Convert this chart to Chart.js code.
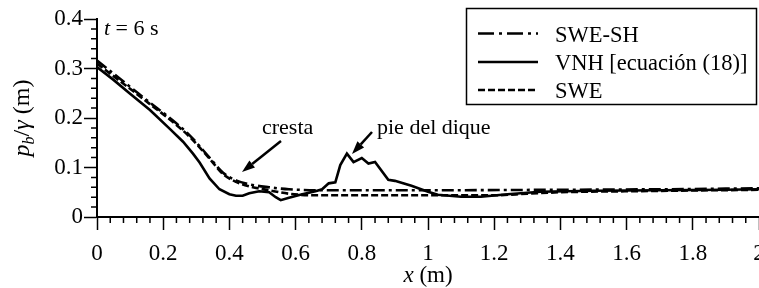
<!DOCTYPE html>
<html>
<head>
<meta charset="utf-8">
<script src="https://cdn.jsdelivr.net/npm/chart.js@4.4.1/dist/chart.umd.min.js"></script>
<style>
  html, body { margin: 0; padding: 0; background: #fff; overflow: hidden; }
  #wrap { position: relative; width: 759px; height: 288px; }
</style>
</head>
<body>
<div id="wrap"><canvas id="pressureChart"></canvas></div>
<script>
'use strict';

/* ── Data ─────────────────────────────────── */
// SWE-SH (dash-dot)
const xSweSh = [0, 0.1, 0.16, 0.22, 0.28, 0.34, 0.38, 0.42, 0.46, 0.52, 0.58, 0.7, 1.0, 1.4, 1.7, 2.0];
const ySweSh = [0.316, 0.263, 0.231, 0.200, 0.165, 0.120, 0.090, 0.074, 0.066, 0.060, 0.056, 0.054, 0.054, 0.055, 0.056, 0.058];

// VNH [ecuación (18)] (solid)
const xVnh = [0, 0.05, 0.1, 0.16, 0.22, 0.26, 0.29, 0.31, 0.34, 0.37, 0.40, 0.42, 0.44, 0.46, 0.49, 0.52, 0.54, 0.555, 0.58, 0.62, 0.66, 0.68,
              0.70, 0.72, 0.735, 0.755, 0.775, 0.80, 0.82, 0.84, 0.88, 0.90, 0.95, 1.0, 1.03, 1.1, 1.16, 1.24, 1.34, 1.5, 1.7, 1.9, 2.0];
const yVnh = [0.303, 0.277, 0.249, 0.216, 0.178, 0.152, 0.128, 0.110, 0.078, 0.056, 0.046, 0.043, 0.043, 0.048, 0.052, 0.050, 0.040, 0.034, 0.039, 0.046, 0.052, 0.056,
              0.068, 0.070, 0.105, 0.128, 0.111, 0.119, 0.108, 0.111, 0.075, 0.073, 0.063, 0.051, 0.045, 0.041, 0.041, 0.046, 0.051, 0.053, 0.054, 0.055, 0.056];

// SWE (dashed)
const xSwe = [0, 0.1, 0.16, 0.22, 0.28, 0.34, 0.38, 0.42, 0.46, 0.52, 0.58, 0.65, 1.2, 1.3, 1.4, 1.6, 2.0];
const ySwe = [0.310, 0.259, 0.228, 0.197, 0.162, 0.118, 0.087, 0.071, 0.062, 0.054, 0.047, 0.044, 0.044, 0.047, 0.050, 0.052, 0.055];

const SERIES_NAMES = ['SWE-SH', 'VNH [ecuación (18)]', 'SWE'];

/* ── Styles ───────────────────────────────── */
const FAMILY = "'Liberation Serif', 'Times New Roman', serif";
const DASH_DOT = [12, 4, 3, 4];
const DASHED   = [7, 3];

Chart.defaults.color       = '#000';
Chart.defaults.font.family = FAMILY;
Chart.defaults.font.size   = 23;

const pts = (xs, ys) => xs.map((v, i) => ({ x: v, y: ys[i] }));
const isMajor = (v, step) => Math.abs(v / step - Math.round(v / step)) < 1e-6;
const fmtTick = v => String(Number(v.toFixed(2)));

/* ── Helpers ──────────────────────────────── */
function richText(ctx, parts, x, y, align) {
  let w = 0;
  parts.forEach(p => { ctx.font = p[1]; w += ctx.measureText(p[0]).width; });
  let cx = align === 'center' ? x - w / 2 : x;
  parts.forEach(p => {
    ctx.font = p[1];
    ctx.fillText(p[0], cx, y + (p[2] || 0));
    cx += ctx.measureText(p[0]).width;
  });
}

function arrow(ctx, x1, y1, x2, y2) {
  const ang = Math.atan2(y2 - y1, x2 - x1);
  const len = 13, half = 4.5;
  const bx = x2 - len * Math.cos(ang), by = y2 - len * Math.sin(ang);
  ctx.beginPath();
  ctx.moveTo(x1, y1); ctx.lineTo(bx, by);
  ctx.lineWidth = 2.5; ctx.stroke();
  ctx.beginPath();
  ctx.moveTo(x2, y2);
  ctx.lineTo(bx + half * Math.sin(ang), by - half * Math.cos(ang));
  ctx.lineTo(bx - half * Math.sin(ang), by + half * Math.cos(ang));
  ctx.closePath(); ctx.fill();
}

/* ── Overlay: minor ticks, titles, notes, legend ── */
const overlayPlugin = {
  id: 'overlay',
  afterDraw(chart) {
    const { ctx, chartArea: a, scales: { x, y } } = chart;
    ctx.save();
    ctx.strokeStyle = '#000'; ctx.fillStyle = '#000';

    // minor ticks
    ctx.lineWidth = 1.5;
    ctx.beginPath();
    x.ticks.forEach(t => {
      if (isMajor(t.value, 0.2)) return;
      const px = x.getPixelForValue(t.value);
      ctx.moveTo(px, a.bottom); ctx.lineTo(px, a.bottom + 6);
    });
    y.ticks.forEach(t => {
      if (isMajor(t.value, 0.1)) return;
      const py = y.getPixelForValue(t.value);
      ctx.moveTo(a.left - 6, py); ctx.lineTo(a.left, py);
    });
    ctx.stroke();

    ctx.textAlign = 'left'; ctx.textBaseline = 'alphabetic';
    const N = `22px ${FAMILY}`, I = `italic 22px ${FAMILY}`;

    // axis titles
    richText(ctx, [['x', `italic 23px ${FAMILY}`], [' (m)', `23px ${FAMILY}`]], (a.left + a.right) / 2, 282, 'center');
    ctx.save();
    ctx.translate(29, (a.top + a.bottom) / 2);
    ctx.rotate(-Math.PI / 2);
    richText(ctx, [['p', `italic 24px ${FAMILY}`], ['b', `italic 16px ${FAMILY}`, 5], ['/', `24px ${FAMILY}`],
                   ['γ', `italic 24px ${FAMILY}`], [' (m)', `24px ${FAMILY}`]], 0, 0, 'center');
    ctx.restore();

    // notes
    richText(ctx, [['t', I], [' = 6 s', N]], 104, 35);
    ctx.font = N;
    ctx.fillText('cresta', 262, 134);
    ctx.fillText('pie del dique', 377, 134);
    arrow(ctx, 281, 141, 242, 172);
    arrow(ctx, 372, 132, 352, 154);

    // legend
    ctx.lineWidth = 1.5;
    ctx.strokeRect(466.5, 8.5, 290, 96);
    const ds = chart.data.datasets;
    const rows = [41.5, 70, 98];
    ds.forEach((d, i) => {
      ctx.save();
      ctx.lineWidth = d.borderWidth;
      ctx.setLineDash(i === 0 ? [16, 5, 3, 5] : (d.borderDash || []));
      ctx.beginPath();
      ctx.moveTo(478, rows[i] - 8); ctx.lineTo(538, rows[i] - 8);
      ctx.stroke();
      ctx.restore();
      ctx.font = `22.5px ${FAMILY}`;
      ctx.fillText(d.label, 555, rows[i]);
    });
    ctx.restore();
  }
};

/* ── Chart ────────────────────────────────── */
function initPressureChart() {
  const canvas = document.getElementById('pressureChart');
  if (!canvas) return;

  const base = { pointRadius: 0, borderColor: '#000', fill: false, borderWidth: 2.6 };

  new Chart(canvas.getContext('2d'), {
    type: 'line',
    data: {
      datasets: [
        { ...base, label: SERIES_NAMES[0], data: pts(xSweSh, ySweSh), borderDash: DASH_DOT, cubicInterpolationMode: 'monotone' },
        { ...base, label: SERIES_NAMES[1], data: pts(xVnh, yVnh), tension: 0 },
        { ...base, label: SERIES_NAMES[2], data: pts(xSwe, ySwe), borderDash: DASHED, cubicInterpolationMode: 'monotone' },
      ],
    },
    options: {
      responsive: true,
      maintainAspectRatio: false,
      animation: false,
      layout: { padding: { top: 19, right: 0, left: 0, bottom: 0 } },
      plugins: { legend: { display: false }, tooltip: { enabled: false } },
      scales: {
        x: {
          type: 'linear', min: 0, max: 2,
          border: { display: true, color: '#000', width: 2 },
          grid: {
            drawOnChartArea: false, drawTicks: true, tickLength: 13, tickWidth: 1.5,
            tickColor: c => (c.tick && isMajor(c.tick.value, 0.2)) ? '#000' : 'rgba(0,0,0,0)',
          },
          ticks: {
            stepSize: 0.04, autoSkip: false, maxRotation: 0, padding: 10, color: '#000',
            callback: v => isMajor(v, 0.2) ? fmtTick(v) : '',
          },
          afterFit: s => { s.height = 71; s.paddingLeft = 0; s.paddingRight = 0; },
        },
        y: {
          type: 'linear', min: 0, max: 0.4,
          border: { display: true, color: '#000', width: 2 },
          grid: {
            drawOnChartArea: false, drawTicks: true, tickLength: 13, tickWidth: 1.5,
            tickColor: c => (c.tick && isMajor(c.tick.value, 0.1)) ? '#000' : 'rgba(0,0,0,0)',
          },
          ticks: {
            stepSize: 0.02, autoSkip: false, padding: 1, color: '#000',
            callback: v => isMajor(v, 0.1) ? fmtTick(v) : '',
          },
          afterFit: s => { s.width = 97; s.paddingTop = 0; s.paddingBottom = 0; },
        },
      },
    },
    plugins: [overlayPlugin],
  });
}

document.addEventListener('DOMContentLoaded', initPressureChart);
</script>
</body>
</html>
